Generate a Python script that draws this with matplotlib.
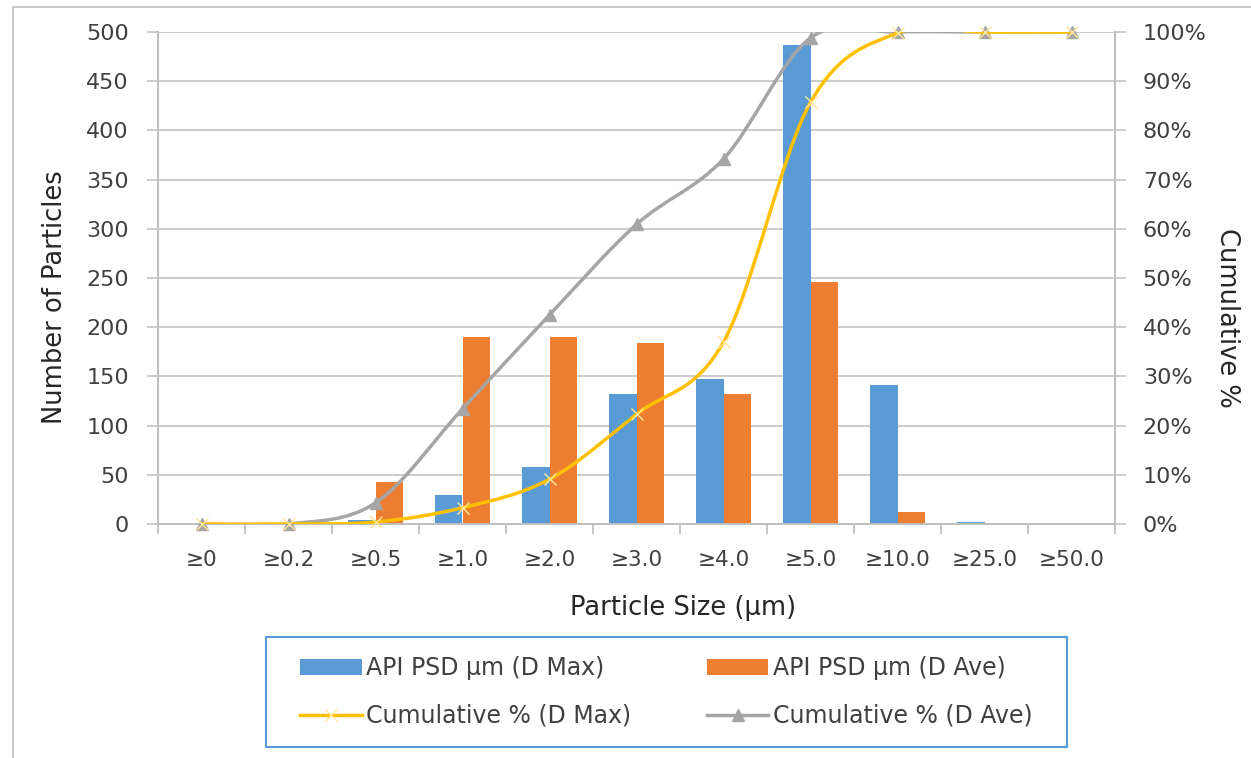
import matplotlib
matplotlib.use("Agg")
import matplotlib.pyplot as plt
import numpy as np
from matplotlib.path import Path
from matplotlib.patches import PathPatch, Rectangle
from matplotlib.lines import Line2D
from matplotlib.patches import Patch
from matplotlib.ticker import PercentFormatter, MultipleLocator

plt.rcParams['font.family'] = ['DejaVu Sans']

categories = ["≥0", "≥0.2", "≥0.5", "≥1.0", "≥2.0", "≥3.0", "≥4.0", "≥5.0", "≥10.0", "≥25.0", "≥50.0"]
dmax_counts = [0, 0, 4, 29, 58, 132, 147, 487, 141, 2, 0]
dave_counts = [0, 0, 43, 190, 190, 184, 132, 246, 12, 0, 0]
cum_dmax = [0, 0, 0.4, 3.3, 9.1, 22.3, 37.0, 85.7, 99.8, 100, 100]
cum_dave = [0, 0, 4.3, 23.4, 42.5, 60.9, 74.2, 98.8, 100, 100, 100]

BLUE = "#5B9BD5"
ORANGE = "#ED7D31"
YELLOW = "#FFC000"
GREY = "#A5A5A5"
AXC = "#BFBFBF"
TXT = "#404040"
LBL = "#262626"

fig = plt.figure(figsize=(12.51, 7.58), dpi=100)
W, H = 1251, 758
ax = fig.add_axes([158 / W, 1 - 524 / H, (1115 - 158) / W, (524 - 32) / H])
ax2 = ax.twinx()

# outer chart frame
fig.add_artist(Rectangle((13 / W, -0.05), 1.2, 1 - 7 / H + 0.05, transform=fig.transFigure,
                         fill=False, edgecolor="#BFBFBF", linewidth=1.2))

x = np.arange(len(categories))
bw = 0.32
ax.bar(x - bw / 2, dmax_counts, width=bw, color=BLUE, zorder=2)
ax.bar(x + bw / 2, dave_counts, width=bw, color=ORANGE, zorder=2)

ax.set_xlim(-0.5, len(categories) - 0.5)
ax.set_ylim(0, 500)
ax.yaxis.set_major_locator(MultipleLocator(50))
ax.grid(axis='y', color="#C8C8C8", linewidth=1.3, zorder=0)
ax.set_axisbelow(True)
ax.set_xticks(x)
ax.set_xticklabels(categories)
ax.set_xticks(np.arange(-0.5, len(categories)), minor=True)
ax.tick_params(axis='x', which='major', length=0, pad=19, labelsize=15.5, labelcolor=TXT)
ax.tick_params(axis='x', which='minor', length=7, color=AXC, width=1.3)
ax.tick_params(axis='y', length=8, color="#C8C8C8", width=1.3, labelsize=16, labelcolor=TXT, pad=13)
for s in ['top']:
    ax.spines[s].set_visible(False)
    ax2.spines[s].set_visible(False)
for a in (ax, ax2):
    for s in ['left', 'right', 'bottom']:
        a.spines[s].set_color(AXC)
        a.spines[s].set_linewidth(1.3)

ax2.set_ylim(0, 100)
ax2.yaxis.set_major_locator(MultipleLocator(10))
ax2.yaxis.set_major_formatter(PercentFormatter(decimals=0))
ax2.tick_params(axis='y', length=8, color="#C8C8C8", width=1.3, labelsize=16, labelcolor=TXT, pad=12)

# axis titles placed like the reference
fig.text(683 / W, 1 - 608 / H, "Particle Size (µm)", fontsize=18.5, color=LBL, ha='center', va='center')
fig.text(55 / W, 1 - 297 / H, "Number of Particles", fontsize=18.5, color=LBL, ha='center', va='center',
         rotation=90)
fig.text(1227 / W, 1 - 318 / H, "Cumulative %", fontsize=18.5, color=LBL, ha='center', va='center',
         rotation=-90)


def smooth_path(xs, ys):
    pts = np.column_stack([xs, ys]).astype(float)
    n = len(pts)
    verts = [pts[0]]
    codes = [Path.MOVETO]
    for i in range(n - 1):
        p0 = pts[i - 1] if i > 0 else pts[i]
        p1 = pts[i]
        p2 = pts[i + 1]
        p3 = pts[i + 2] if i + 2 < n else pts[i + 1]
        c1 = p1 + (p2 - p0) / 6.0
        c2 = p2 - (p3 - p1) / 6.0
        verts += [c1, c2, p2]
        codes += [Path.CURVE4] * 3
    return Path(verts, codes)


ax2.add_patch(PathPatch(smooth_path(x, cum_dave), fill=False, edgecolor=GREY, linewidth=2.5, zorder=3))
ax2.plot(x, cum_dave, linestyle='none', marker='^', markersize=9, color=GREY, zorder=4, clip_on=False)
ax2.add_patch(PathPatch(smooth_path(x, cum_dmax), fill=False, edgecolor=YELLOW, linewidth=2.5, zorder=5))
ax2.plot(x, cum_dmax, linestyle='none', marker='x', markersize=8, markeredgewidth=1.0,
         color="#FFE699", zorder=6, clip_on=False)

h_blue = Patch(facecolor=BLUE, label="API PSD µm (D Max)")
h_orange = Patch(facecolor=ORANGE, label="API PSD µm (D Ave)")
h_yellow = Line2D([], [], color=YELLOW, lw=2.5, marker='x', markersize=8, markeredgecolor="#FFE699",
                  label="Cumulative % (D Max)")
h_grey = Line2D([], [], color=GREY, lw=2.5, marker='^', markersize=8, label="Cumulative % (D Ave)")
handles = [h_blue, h_yellow, h_orange, h_grey]
leg = fig.legend(handles=handles, ncol=2, loc='center',
                 bbox_to_anchor=(((266 + 1067) / 2) / W, 1 - 692 / H),
                 fontsize=17, frameon=False,
                 handlelength=2.6, handleheight=0.65, columnspacing=3.2, labelspacing=1.0,
                 borderpad=0.8, handletextpad=0.2, borderaxespad=0)
for t in leg.get_texts():
    t.set_color(TXT)
# legend frame as in the reference
fig.add_artist(Rectangle((266 / W, 1 - 747 / H), (1067 - 266) / W, (747 - 637) / H,
                         transform=fig.transFigure, fill=False, edgecolor="#5B9BD5", linewidth=1.5))

fig.savefig("out.png", dpi=100)
